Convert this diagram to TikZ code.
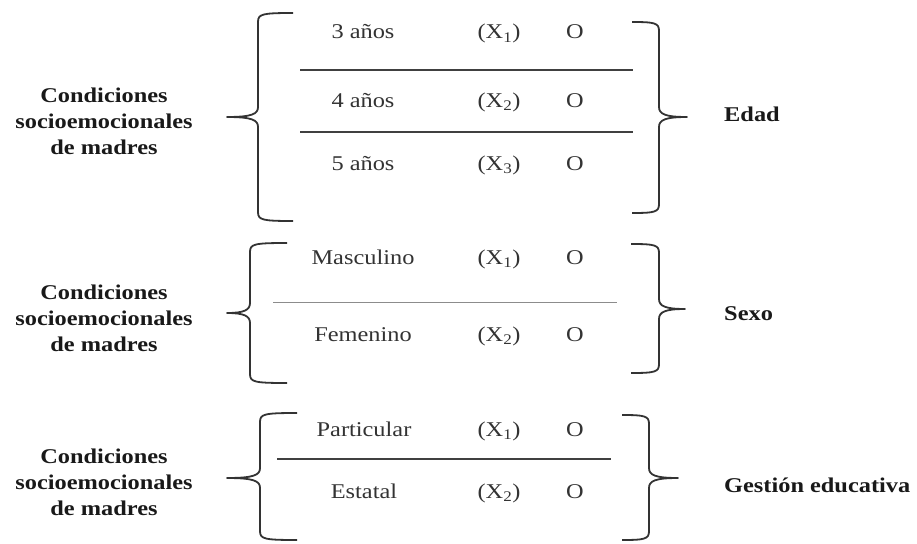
\documentclass[tikz,border=0pt]{standalone}
\usepackage{fontspec}
\setmainfont{Liberation Serif}[FakeStretch=1.16]
\begin{document}
\begin{tikzpicture}[x=1pt,y=-1pt,
  txt/.style={inner sep=0pt,anchor=base,text=black!80,font=\fontsize{21}{26}\selectfont},
  lbl/.style={inner sep=0pt,align=center,text=black!90,font=\fontsize{21}{26}\selectfont\bfseries},
  rlbl/.style={inner sep=0pt,anchor=base west,text=black!90,font=\fontsize{21}{26}\selectfont\bfseries},
  brace/.style={draw=black!80,line width=1.8pt,line join=round},
  divline/.style={draw=black!75,line width=1.8pt},
  thinline/.style={draw=black!45,line width=0.9pt}]
\useasboundingbox (0,0) rectangle (917,543);
\fill[white] (0,0) rectangle (917,543);
% left brace: xe,yt,yb,xv,xt,ym
\newcommand{\mylbrace}[6]{%
  \draw[brace] (#1,#2) .. controls (#4+4,#2) and (#4,#2+1) .. (#4,#2+9)
    -- (#4,#6-10) .. controls (#4,#6-3) and (#4-6,#6) .. (#5,#6)
    .. controls (#4-6,#6) and (#4,#6+3) .. (#4,#6+10)
    -- (#4,#3-9) .. controls (#4,#3-1) and (#4+4,#3) .. (#1,#3);}
\newcommand{\myrbrace}[6]{%
  \draw[brace] (#1,#2) .. controls (#4-4,#2) and (#4,#2+1) .. (#4,#2+9)
    -- (#4,#6-10) .. controls (#4,#6-3) and (#4+6,#6) .. (#5,#6)
    .. controls (#4+6,#6) and (#4,#6+3) .. (#4,#6+10)
    -- (#4,#3-9) .. controls (#4,#3-1) and (#4-4,#3) .. (#1,#3);}
% ---------- Block 1 ----------
\node[lbl] (c1) at (104,121.5) {Condiciones\\socioemocionales\\de madres};
\mylbrace{293}{13}{221}{258}{227}{117}
\node[txt] (a3) at (363,39) {3 años};
\node[txt] (x31) at (499,39) {(X\textsubscript{1})};
\node[txt] (o31) at (575,39) {O};
\coordinate (l1a) at (300,70); \coordinate (l1b) at (633,70);
\draw[divline] (l1a) -- (l1b);
\node[txt] (a4) at (363,107) {4 años};
\node[txt] (x42) at (499,107) {(X\textsubscript{2})};
\node[txt] (o42) at (575,107) {O};
\coordinate (l2a) at (300,132); \coordinate (l2b) at (633,132);
\draw[divline] (l2a) -- (l2b);
\node[txt] (a5) at (363,170) {5 años};
\node[txt] (x53) at (499,170) {(X\textsubscript{3})};
\node[txt] (o53) at (575,170) {O};
\myrbrace{632}{22}{213}{659}{687}{117}
\node[rlbl] (edad) at (724,121) {Edad};
% ---------- Block 2 ----------
\node[lbl] (c2) at (104,318) {Condiciones\\socioemocionales\\de madres};
\mylbrace{287}{243}{383}{250}{227}{313}
\node[txt] (mas) at (363,264) {Masculino};
\node[txt] (xm) at (499,264) {(X\textsubscript{1})};
\node[txt] (om) at (575,264) {O};
\coordinate (l3a) at (273,302); \coordinate (l3b) at (617,302);
\draw[thinline] (l3a) -- (l3b);
\node[txt] (fem) at (363,341) {Femenino};
\node[txt] (xf) at (499,341) {(X\textsubscript{2})};
\node[txt] (of) at (575,341) {O};
\myrbrace{631}{244}{373}{659}{685}{309}
\node[rlbl] (sexo) at (724,320) {Sexo};
% ---------- Block 3 ----------
\node[lbl] (c3) at (104,482.5) {Condiciones\\socioemocionales\\de madres};
\mylbrace{297}{413}{540}{260}{227}{478}
\node[txt] (par) at (364,436) {Particular};
\node[txt] (xp) at (499,436) {(X\textsubscript{1})};
\node[txt] (op) at (575,436) {O};
\coordinate (l4a) at (277,459); \coordinate (l4b) at (611,459);
\draw[divline] (l4a) -- (l4b);
\node[txt] (est) at (364,498) {Estatal};
\node[txt] (xe) at (499,498) {(X\textsubscript{2})};
\node[txt] (oe) at (575,498) {O};
\myrbrace{622}{415}{540}{649}{678}{478}
\node[rlbl] (gest) at (724,492) {Gestión educativa};
\end{tikzpicture}
\end{document}
